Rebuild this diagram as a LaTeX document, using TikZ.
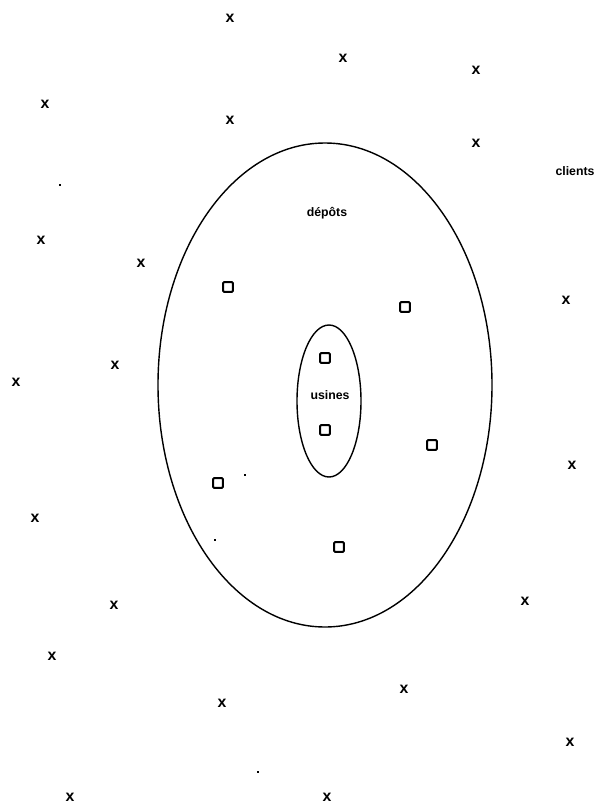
\documentclass[tikz,border=0pt]{standalone}
\usepackage{fontspec}
\setsansfont{Liberation Sans}
\usetikzlibrary{positioning}
\tikzset{
  client/.style={font=\sffamily\bfseries\small,inner sep=0pt},
  depot/.style={draw,line width=1.1pt,minimum size=5.6pt,inner sep=0pt,rounded corners=0.6pt},
  lbl/.style={font=\sffamily\bfseries\scriptsize,inner sep=1pt},
  speck/.style={fill,inner sep=0pt,minimum size=1.6pt}
}
\begin{document}
\begin{tikzpicture}[x=0.02cm,y=-0.02cm,every node/.style={font=\small}]
\useasboundingbox (0,0) rectangle (608,805);
% zones
\draw[line width=.8pt] (325,385) ellipse [x radius=167,y radius=242];
\draw[line width=.8pt] (329,401) ellipse [x radius=32,y radius=76];
\node[lbl] (dep) at (327,213) {dépôts};
\node[lbl] (usi) at (330,395) {usines};
\node[lbl] (cli) at (575,171) {clients};
% usines
\node[depot] (u1) at (325,358) {};
\node[depot] (u2) at (325,430) {};
% depots
\node[depot] (d1) at (228,287) {};
\node[depot] (d2) at (405,307) {};
\node[depot] (d3) at (432,445) {};
\node[depot] (d4) at (218,483) {};
\node[depot] (d5) at (339,547) {};
% clients
\node[client] (c1) at (230,18) {x};
\node[client] (c2) at (343,58) {x};
\node[client] (c3) at (476,70) {x};
\node[client] (c4) at (45,104) {x};
\node[client] (c5) at (230,120) {x};
\node[client] (c6) at (476,143) {x};
\node[client] (c7) at (41,240) {x};
\node[client] (c8) at (141,263) {x};
\node[client] (c9) at (566,300) {x};
\node[client] (c10) at (115,365) {x};
\node[client] (c11) at (16,382) {x};
\node[client] (c12) at (572,465) {x};
\node[client] (c13) at (35,518) {x};
\node[client] (c14) at (525,601) {x};
\node[client] (c15) at (114,605) {x};
\node[client] (c16) at (52,656) {x};
\node[client] (c17) at (404,689) {x};
\node[client] (c18) at (222,703) {x};
\node[client] (c19) at (570,742) {x};
\node[client] (c20) at (70,797) {x};
\node[client] (c21) at (327,797) {x};
% specks
\node[speck] (s1) at (60,185) {};
\node[speck] (s2) at (245,475) {};
\node[speck] (s3) at (215,540) {};
\node[speck] (s4) at (258,772) {};
\end{tikzpicture}
\end{document}
